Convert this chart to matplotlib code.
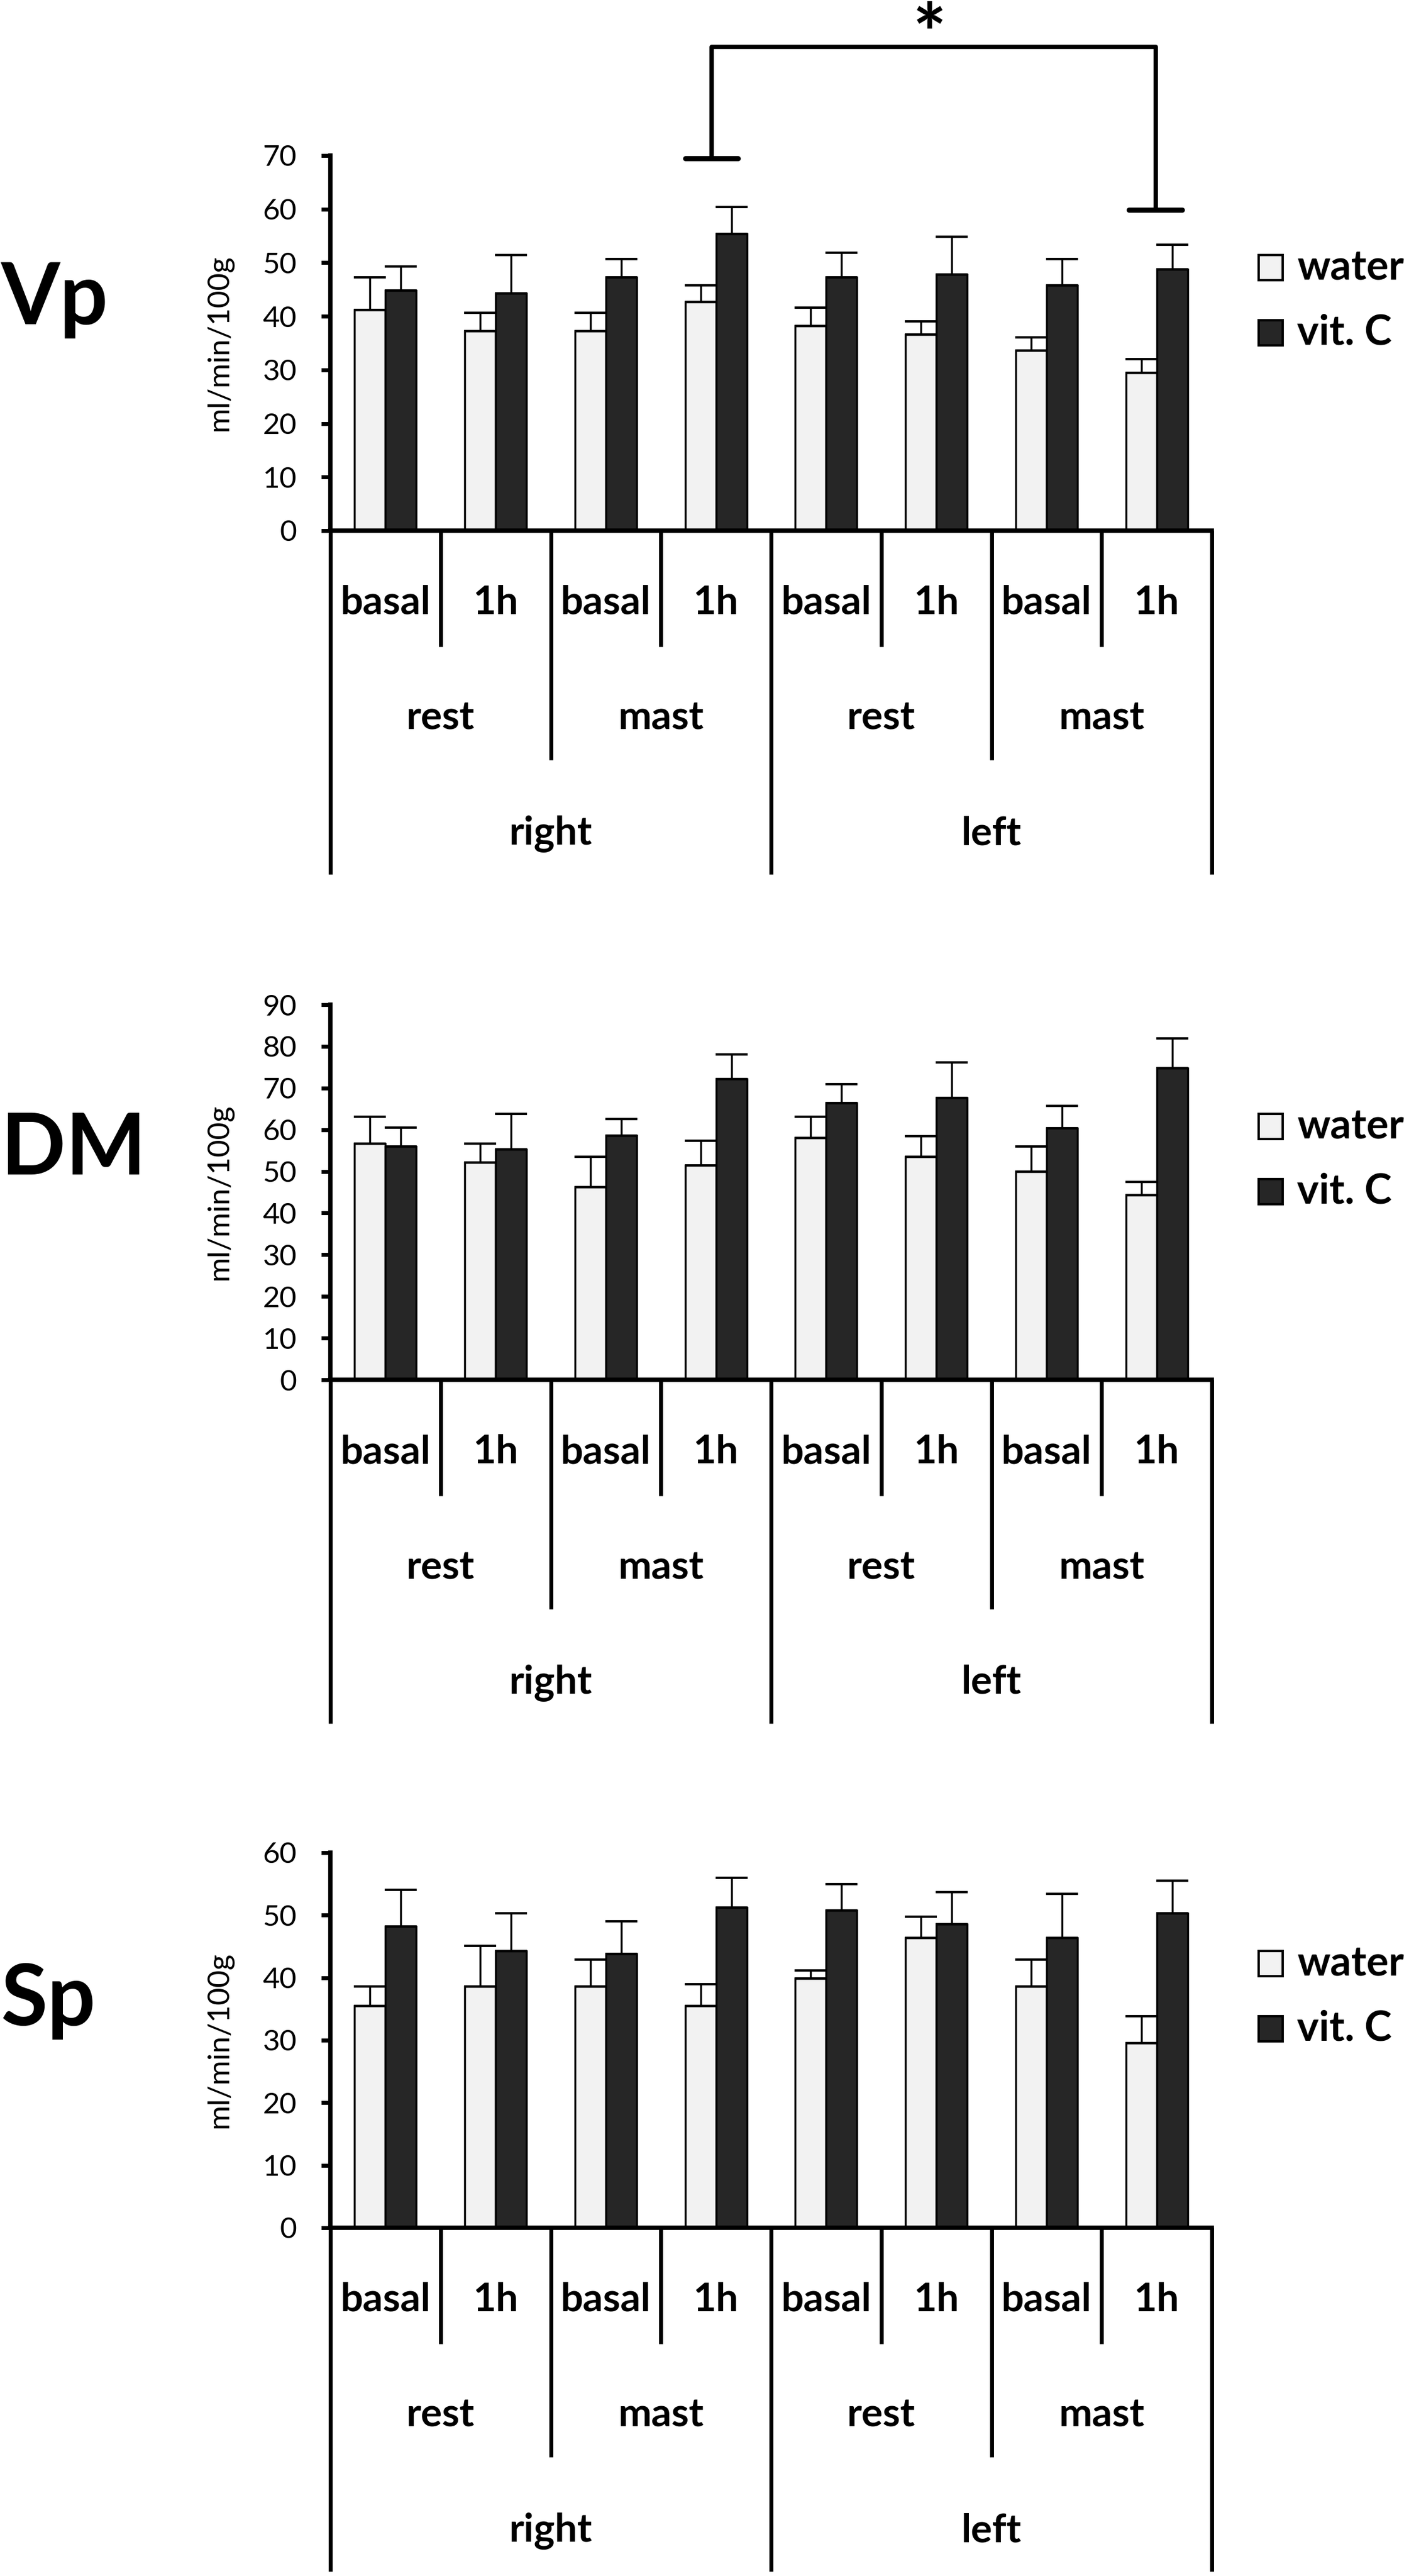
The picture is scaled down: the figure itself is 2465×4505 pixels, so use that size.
import matplotlib.pyplot as plt
import matplotlib.transforms as mtransforms
from matplotlib.patches import Rectangle
import numpy as np

plt.rcParams['font.family'] = ['Lato', 'DejaVu Sans']

W, H = 2465, 4505

# category levels (inner -> outer)
conditions = ['basal', '1h', 'basal', '1h', 'basal', '1h', 'basal', '1h']
activities = ['rest', 'mast', 'rest', 'mast']
sides = ['right', 'left']
series = ['water', 'vit. C']

panels = ['Vp', 'DM', 'Sp']
y_max = [70, 90, 60]

# means and (upper) error bars
vp_water = [41.2, 37.2, 37.2, 42.7, 38.2, 36.6, 33.6, 29.5]
vp_water_err = [6.1, 3.5, 3.5, 3.1, 3.4, 2.5, 2.5, 2.5]
vp_vitc = [44.8, 44.3, 47.3, 55.4, 47.3, 47.8, 45.8, 48.8]
vp_vitc_err = [4.5, 7.1, 3.4, 5.0, 4.6, 7.0, 4.9, 4.6]

dm_water = [56.6, 52.1, 46.3, 51.5, 58.0, 53.5, 50.0, 44.3]
dm_water_err = [6.5, 4.5, 7.2, 5.8, 5.1, 5.0, 6.0, 3.2]
dm_vitc = [56.0, 55.3, 58.6, 72.2, 66.4, 67.6, 60.4, 74.8]
dm_vitc_err = [4.5, 8.5, 3.9, 5.9, 4.5, 8.5, 5.3, 7.1]

sp_water = [35.5, 38.6, 38.6, 35.5, 39.9, 46.4, 38.6, 29.5]
sp_water_err = [3.1, 6.5, 4.3, 3.5, 1.3, 3.4, 4.3, 4.3]
sp_vitc = [48.2, 44.3, 43.8, 51.2, 50.8, 48.6, 46.4, 50.3]
sp_vitc_err = [5.9, 6.0, 5.2, 4.8, 4.2, 5.1, 7.0, 5.2]

water_all = [vp_water, dm_water, sp_water]
water_err_all = [vp_water_err, dm_water_err, sp_water_err]
vitc_all = [vp_vitc, dm_vitc, sp_vitc]
vitc_err_all = [vp_vitc_err, dm_vitc_err, sp_vitc_err]

# layout (pixels, measured from the top)
AX_LEFT, AX_RIGHT, AX_H = 578, 2120, 656
base_y = [928, 2413, 3896]          # pixel row of y = 0 for each panel
title_dy = [-361, -359, -354]       # title baseline relative to base
legend_dy = [-460, -443, -462]      # centre of "water" legend row
ROW_GAP = 114

WATER_COLOR = '#f2f2f2'
VITC_COLOR = '#262626'
BAR_W = 0.28


def fx(px):
    return px / W


def fy(py):
    return 1 - py / H


fig = plt.figure(figsize=(W / 100, H / 100), dpi=100)

for k, name in enumerate(panels):
    y0 = base_y[k]
    ax = fig.add_axes([fx(AX_LEFT), fy(y0), (AX_RIGHT - AX_LEFT) / W, AX_H / H])
    x = np.arange(len(conditions)) + 0.5

    err_kw = dict(ecolor='black', elinewidth=2.5, capsize=20, capthick=3)
    ax.bar(x - BAR_W / 2, water_all[k], BAR_W, color=WATER_COLOR, edgecolor='black',
           linewidth=2.5, yerr=[np.zeros(8), water_err_all[k]], error_kw=err_kw, zorder=2)
    ax.bar(x + BAR_W / 2, vitc_all[k], BAR_W, color=VITC_COLOR, edgecolor='black',
           linewidth=2.5, yerr=[np.zeros(8), vitc_err_all[k]], error_kw=err_kw, zorder=2)

    ax.set_xlim(0, len(conditions))
    ax.set_ylim(0, y_max[k])
    ax.set_yticks(np.arange(0, y_max[k] + 1, 10))
    ax.set_xticks([])
    for s in ['top', 'right']:
        ax.spines[s].set_visible(False)
    ax.spines['left'].set_linewidth(5.5)
    ax.spines['bottom'].set_linewidth(5.5)
    ax.tick_params(axis='y', direction='out', length=11.5, width=5, pad=31, labelsize=37)

    ax.set_ylabel('ml/min/100g', fontsize=38)
    ax.yaxis.set_label_coords(-0.111, 0.5)

    # hierarchical category axis below the bars
    tr = mtransforms.blended_transform_factory(ax.transData, fig.transFigure)
    line_kw = dict(color='black', lw=5, transform=tr, clip_on=False, solid_capstyle='butt')
    for xb in range(len(conditions) + 1):
        if xb % 4 == 0:
            depth = 601
        elif xb % 2 == 0:
            depth = 401
        else:
            depth = 203
        ax.plot([xb, xb], [fy(y0), fy(y0 + depth)], **line_kw)

    txt_kw = dict(transform=tr, ha='center', va='baseline', fontsize=50,
                  fontweight='bold', clip_on=False)
    for i, lab in enumerate(conditions):
        ax.text(i + 0.5, fy(y0 + 146), lab, **txt_kw)
    for i, lab in enumerate(activities):
        ax.text(2 * i + 1, fy(y0 + 348), lab, **txt_kw)
    for i, lab in enumerate(sides):
        ax.text(4 * i + 2, fy(y0 + 549), lab, **txt_kw)

    # panel title
    fig.text(fx(2), fy(y0 + title_dy[k]), name, fontsize=107, fontweight='bold',
             ha='left', va='baseline')

    # legend
    for j, (lab, col) in enumerate(zip(series, [WATER_COLOR, VITC_COLOR])):
        cy = y0 + legend_dy[k] + j * ROW_GAP
        fig.add_artist(Rectangle((fx(2202), fy(cy + 22)), 42 / W, 44 / H,
                                 transform=fig.transFigure, facecolor=col,
                                 edgecolor='black', linewidth=3))
        fig.text(fx(2269), fy(cy), lab, fontsize=52, fontweight='bold',
                 ha='left', va='center')

    if name == 'Vp':
        # significance bracket between mast 1h right and mast 1h left
        bk = dict(color='black', clip_on=False)
        ax.plot([3.46, 3.46, 7.49, 7.49], [69.5, 90.3, 90.3, 59.9], lw=5.5, **bk)
        ax.plot([3.22, 3.70], [69.5, 69.5], lw=6.5, solid_capstyle='round', **bk)
        ax.plot([7.25, 7.73], [59.9, 59.9], lw=6.5, solid_capstyle='round', **bk)
        ax.text(5.44, 87.4, '*', fontsize=100, fontweight='bold', ha='center',
                va='baseline', clip_on=False)

fig.savefig('out.png', dpi=100)
